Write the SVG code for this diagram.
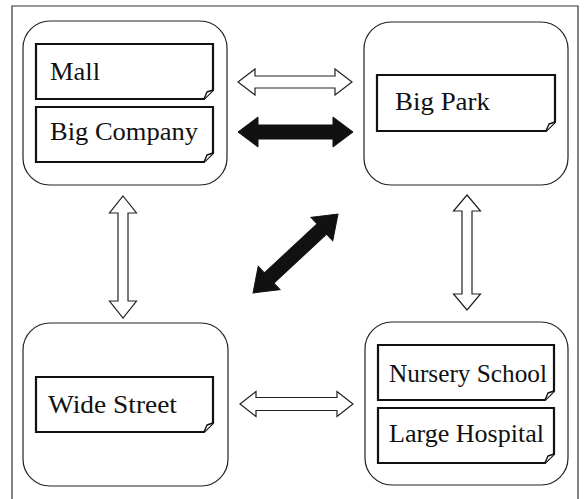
<svg xmlns="http://www.w3.org/2000/svg" width="585" height="499" viewBox="0 0 585 499">
<style>
.frame{fill:none;stroke:#333;stroke-width:1.2}
.box{fill:#fff;stroke:#222;stroke-width:1.2}
.note{fill:#fff;stroke:#111;stroke-width:2.2;stroke-linejoin:miter}
.fold{fill:#fff;stroke:#111;stroke-width:1.4;stroke-linejoin:round}
.lbl{font-family:'Liberation Serif','Times New Roman',Times,'DejaVu Serif','Noto Serif',serif;font-size:26px;fill:#111}
.hollow{fill:#fff;stroke:#222;stroke-width:1.2;stroke-linejoin:miter}
.solid{fill:#111;stroke:#111;stroke-width:1}
</style>
<rect width="585" height="499" fill="#fff"/>
<path class="frame" d="M12,499 V6 H578 V499"/>

<g id="node-top-left">
<rect class="box" x="23" y="21" width="204" height="164" rx="27"/>
<g id="note-mall">
<path class="note" d="M36,44 H213 V90 L204,99 H36 Z"/>
<path class="fold" d="M204,99 L207,92 L213,90"/>
<text class="lbl" x="50" y="80" textLength="50" lengthAdjust="spacingAndGlyphs">Mall</text>
</g>
<g id="note-big-company">
<path class="note" d="M36,107 H213 V153 L204,162 H36 Z"/>
<path class="fold" d="M204,162 L207,155 L213,153"/>
<text class="lbl" x="50" y="140" textLength="148" lengthAdjust="spacingAndGlyphs">Big Company</text>
</g>
</g>

<g id="node-top-right">
<rect class="box" x="364" y="22" width="204" height="163" rx="27"/>
<g id="note-big-park">
<path class="note" d="M377,75 H555 V122 L546,131 H377 Z"/>
<path class="fold" d="M546,131 L549,124 L555,122"/>
<text class="lbl" x="395" y="110" textLength="95" lengthAdjust="spacingAndGlyphs">Big Park</text>
</g>
</g>

<g id="node-bottom-left">
<rect class="box" x="23" y="323" width="205" height="163" rx="27"/>
<g id="note-wide-street">
<path class="note" d="M36,377 H213 V423 L204,432 H36 Z"/>
<path class="fold" d="M204,432 L207,425 L213,423"/>
<text class="lbl" x="48" y="413" textLength="129" lengthAdjust="spacingAndGlyphs">Wide Street</text>
</g>
</g>

<g id="node-bottom-right">
<rect class="box" x="365" y="322" width="203" height="163" rx="27"/>
<g id="note-nursery-school">
<path class="note" d="M378,345 H554 V391 L545,400 H378 Z"/>
<path class="fold" d="M545,400 L548,393 L554,391"/>
<text class="lbl" x="389" y="382" textLength="158" lengthAdjust="spacingAndGlyphs">Nursery School</text>
</g>
<g id="note-large-hospital">
<path class="note" d="M378,408 H554 V454 L545,463 H378 Z"/>
<path class="fold" d="M545,463 L548,456 L554,454"/>
<text class="lbl" x="389" y="442" textLength="155" lengthAdjust="spacingAndGlyphs">Large Hospital</text>
</g>
</g>

<g id="connectors">
<polygon class="hollow" points="238,82 255,69 255,76 335,76 335,69 352,82 335,95 335,88 255,88 255,95"/>
<polygon class="solid" points="238,132 258,117 258,125 333,125 333,117 353,132 333,147 333,139 258,139 258,147"/>
<polygon class="hollow" points="240,404 256,391.5 256,397.5 337,397.5 337,391.5 353,404 337,416.5 337,410.5 256,410.5 256,416.5"/>
<polygon class="hollow" points="123,196 136.5,213 128,213 128,301 136.5,301 123,318 109.5,301 118,301 118,213 109.5,213"/>
<polygon class="hollow" points="467,195 480.5,211 472,211 472,294 480.5,294 467,310 453.5,294 462,294 462,211 453.5,211"/>
<polygon class="solid" transform="translate(295.5,253.5) rotate(-42.9)" points="-58,0 -36,-16 -36,-7 36,-7 36,-16 58,0 36,16 36,7 -36,7 -36,16"/>
</g>
</svg>
